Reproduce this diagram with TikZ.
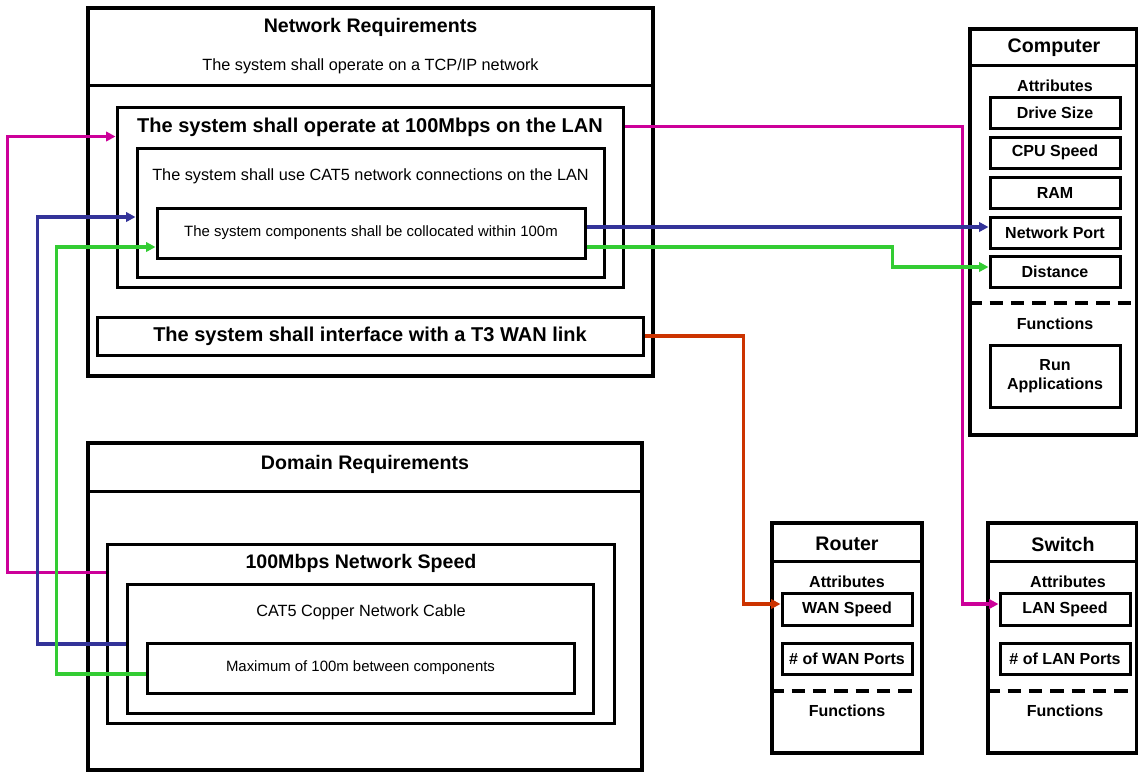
\documentclass[tikz,border=0pt]{standalone}
\usepackage{fontspec}
\setmainfont{Liberation Sans}
\usetikzlibrary{arrows.meta, calc}

\definecolor{lnkmag}{RGB}{204,0,153}
\definecolor{lnkblu}{RGB}{51,51,153}
\definecolor{lnkgrn}{RGB}{51,204,51}
\definecolor{lnkred}{RGB}{204,51,0}

\begin{document}
\begin{tikzpicture}[
  x=0.75pt, y=-0.75pt,
  box/.style 2 args ={rectangle, draw=black, line width=2.25pt, inner sep=0pt,
                      minimum width=#1*0.75pt, minimum height=#2*0.75pt, align=center},
  obox/.style 2 args ={box={#1}{#2}, line width=2.6pt},
  ttl/.style  ={font=\fontsize{14.7}{17}\selectfont\bfseries, inner sep=0pt},
  reqb/.style ={font=\fontsize{15}{18}\selectfont\bfseries},
  req/.style  ={font=\fontsize{12.2}{14}\selectfont, inner sep=0pt},
  reqs/.style ={font=\fontsize{11.2}{13}\selectfont},
  attr/.style ={font=\fontsize{12}{14.5}\selectfont\bfseries},
  dsh/.style  ={line width=3pt, dash pattern=on 10pt off 6pt},
  sep/.style  ={line width=2.6pt},
  lnk/.style  ={draw=#1, line width=2.5pt, -{Triangle[length=7pt, width=7pt]}},
]
\useasboundingbox (0,0) rectangle (1138,772);

% --- Network requirements ---
\node[obox={565}{368}] (net)   at (370.5, 192)   {};
\node[box={506}{180}]  (lan)   at (370, 197)     {};
\node[box={467}{129}]  (cat)   at (370.5, 212.5) {};
\node[box={428}{50}, reqs] (col) at (371, 233)   {The system components shall be collocated within 100m};
\node[box={546}{38}, reqb] (wan) at (370, 336)   {The system shall interface with a T3 WAN link};
\draw[sep] ($(net.north west)+(0,79)$) -- ($(net.north east)+(0,79)$);

\node[ttl] (nettl)  at (370.5, 27)  {Network Requirements};
\node[req] (netsub) at (370.5, 66)  {The system shall operate on a TCP/IP network};
\node[reqb, inner sep=0pt] (lantl) at (370, 127) {The system shall operate at 100Mbps on the LAN};
\node[req] (cattx)  at (370.5, 176) {The system shall use CAT5 network connections on the LAN};

% --- Domain requirements ---
\node[obox={554}{327}] (dom) at (365, 606.5)   {};
\node[box={507}{179}]  (spd) at (360.5, 633.5) {};
\node[box={466}{129}]  (cab) at (360, 648.5)   {};
\node[box={427}{50}, reqs] (max) at (360.5, 668) {Maximum of 100m between components};
\draw[sep] ($(dom.north west)+(0,50)$) -- ($(dom.north east)+(0,50)$);

\node[ttl] (domtl) at (365, 464)   {Domain Requirements};
\node[ttl] (spdtl) at (361, 563)   {100Mbps Network Speed};
\node[req] (cabtx) at (361, 612)   {CAT5 Copper Network Cable};

% --- Computer ---
\node[obox={167}{406}] (comp) at (1053.5, 232) {};
\draw[sep] ($(comp.north west)+(0,38)$) -- ($(comp.north east)+(0,38)$);
\draw[dsh] ($(comp.north west)+(0,276)$) -- ($(comp.north east)+(0,276)$);
\node[ttl]  (comptl) at (1054, 48)  {Computer};
\node[attr, inner sep=0pt] (compat) at (1055, 86)  {Attributes};
\node[box={130}{31}, attr] (drv) at (1055, 113)   {Drive Size};
\node[box={130}{31}, attr] (cpu) at (1055, 152.5) {CPU Speed};
\node[box={130}{31}, attr] (ram) at (1055, 192.5) {RAM};
\node[box={130}{31}, attr] (prt) at (1055, 232.5) {Network Port};
\node[box={130}{31}, attr] (dst) at (1055, 271.5) {Distance};
\node[attr, inner sep=0pt] (compfn) at (1055, 324) {Functions};
\node[box={130}{62}, attr] (run) at (1055, 376)   {Run\\Applications};

% --- Router ---
\node[obox={150}{230}] (rtr) at (847, 638) {};
\draw[sep] ($(rtr.north west)+(0,40)$) -- ($(rtr.north east)+(0,40)$);
\draw[dsh] ($(rtr.north west)+(0,170)$) -- ($(rtr.north east)+(0,170)$);
\node[ttl]  (rtrtl) at (847, 544) {Router};
\node[attr, inner sep=0pt] (rtrat) at (847, 582) {Attributes};
\node[box={130}{32}, attr] (wsp) at (847, 609)   {WAN Speed};
\node[box={130}{31}, attr] (wpt) at (847, 658.5) {\# of WAN Ports};
\node[attr, inner sep=0pt] (rtrfn) at (847, 711) {Functions};

% --- Switch ---
\node[obox={149}{230}] (swt) at (1062.5, 638) {};
\draw[sep] ($(swt.north west)+(0,40)$) -- ($(swt.north east)+(0,40)$);
\draw[dsh] ($(swt.north west)+(0,170)$) -- ($(swt.north east)+(0,170)$);
\node[ttl]  (swttl) at (1063, 544) {Switch};
\node[attr, inner sep=0pt] (swtat) at (1068, 582) {Attributes};
\node[box={130}{32}, attr] (lsp) at (1065, 609)   {LAN Speed};
\node[box={130}{31}, attr] (lpt) at (1065, 658.5) {\# of LAN Ports};
\node[attr, inner sep=0pt] (swtfn) at (1065, 711) {Functions};

% --- Links ---
\draw[lnk=lnkmag] ($(spd.north west)+(0,30)$) -- ++(-98,0) |- ($(lan.north west)+(0,31)$);
\draw[lnk=lnkmag] ($(lan.north east)+(0,21)$) -- ++(338,0) |- ($(lsp.west)+(0,-5)$);
\draw[lnk=lnkblu] ($(cab.west)+(0,-4.5)$) -- ++(-88,0) |- ($(cat.west)+(0,4.5)$);
\draw[lnk=lnkblu] ($(col.east)+(0,-6)$) coordinate (b1) -- (b1 -| prt.west);
\draw[lnk=lnkgrn] ($(max.west)+(0,6)$) -- ++(-89,0) |- ($(col.west)+(0,14)$);
\draw[lnk=lnkgrn] ($(col.east)+(0,14)$) -- ++(306,0) |- ($(dst.west)+(0,-4.5)$);
\draw[lnk=lnkred] (wan.east) -- ++(99,0) |- ($(wsp.west)+(0,-5)$);
\end{tikzpicture}
\end{document}
